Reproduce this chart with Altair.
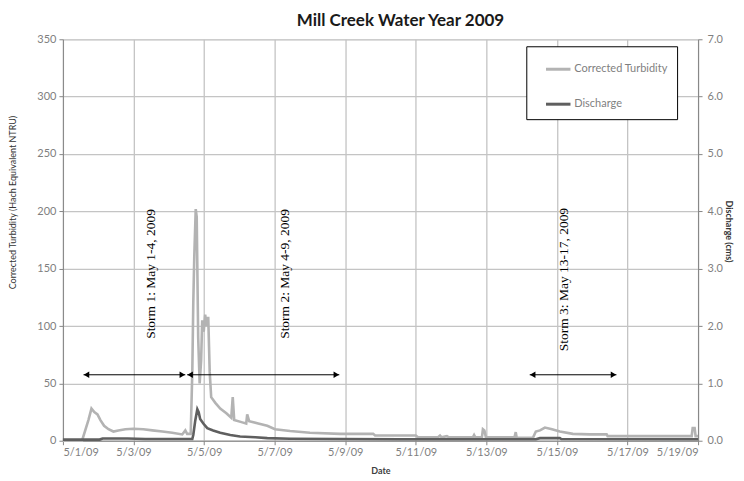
import altair as alt
import pandas as pd

# ---------------- data ----------------
series_names = ["Corrected Turbidity", "Discharge"]
series_colors = ["#b3b3b3", "#5f5f5f"]

turb_time = [
    "2009-05-01T00:00", "2009-05-01T13:00", "2009-05-01T17:20", "2009-05-01T19:25",
    "2009-05-01T21:20", "2009-05-01T23:30", "2009-05-02T01:30", "2009-05-02T04:00",
    "2009-05-02T07:00", "2009-05-02T10:20", "2009-05-02T13:40", "2009-05-02T18:30",
    "2009-05-03T00:00", "2009-05-03T06:40", "2009-05-03T12:50", "2009-05-03T19:40",
    "2009-05-04T02:20", "2009-05-04T09:10", "2009-05-04T11:15", "2009-05-04T12:30",
    "2009-05-04T14:55", "2009-05-04T16:00", "2009-05-04T16:40", "2009-05-04T17:20",
    "2009-05-04T18:20", "2009-05-04T19:00", "2009-05-04T20:00", "2009-05-04T21:00",
    "2009-05-04T22:00", "2009-05-04T22:45", "2009-05-04T23:45", "2009-05-05T00:45",
    "2009-05-05T01:50", "2009-05-05T02:50", "2009-05-05T03:50", "2009-05-05T04:50",
    "2009-05-05T07:40", "2009-05-05T11:00", "2009-05-05T15:10", "2009-05-05T18:30",
    "2009-05-05T19:30", "2009-05-05T20:30", "2009-05-06T02:00", "2009-05-06T04:40",
    "2009-05-06T05:20", "2009-05-06T06:40", "2009-05-06T12:50", "2009-05-06T19:00",
    "2009-05-07T00:15", "2009-05-07T10:30", "2009-05-08T00:00", "2009-05-08T20:30",
    "2009-05-09T19:00", "2009-05-09T20:20", "2009-05-11T00:00", "2009-05-11T01:30",
    "2009-05-11T15:10", "2009-05-11T16:30", "2009-05-11T17:30", "2009-05-11T21:10",
    "2009-05-11T22:30", "2009-05-12T14:50", "2009-05-12T15:40", "2009-05-12T16:30",
    "2009-05-12T21:00", "2009-05-12T21:40", "2009-05-12T22:40", "2009-05-12T23:40",
    "2009-05-13T19:10", "2009-05-13T20:00", "2009-05-13T20:40", "2009-05-14T07:40",
    "2009-05-14T09:40", "2009-05-14T12:30", "2009-05-14T15:50", "2009-05-14T20:40",
    "2009-05-15T02:00", "2009-05-15T10:50", "2009-05-15T22:20", "2009-05-16T09:50",
    "2009-05-16T10:30", "2009-05-18T19:40", "2009-05-18T20:20", "2009-05-18T21:40",
    "2009-05-18T22:20", "2009-05-19T00:00",
]
turb_value = [
    0, 0, 18, 28,
    25, 23, 18, 13,
    10, 8, 9, 10,
    10.5, 10, 9, 8,
    7, 5.5, 9, 6,
    6, 60, 120, 160,
    202, 195, 90, 50,
    70, 105, 95, 110,
    100, 108, 60, 38,
    33, 28, 24, 20,
    38, 18, 16, 15,
    23, 17, 15, 13,
    10, 8.5, 7, 6,
    6, 4.5, 4.5, 3,
    3, 4.5, 3, 4,
    3, 3, 5, 3,
    3, 10, 9, 3,
    3, 7.5, 2.5, 2.5,
    8, 9, 11.5, 10,
    8, 6, 5.5, 5.5,
    4, 4, 11, 11,
    4, 4,
]

dis_time = [
    "2009-05-01T00:00", "2009-05-02T01:00", "2009-05-02T03:00", "2009-05-02T20:00",
    "2009-05-03T08:00", "2009-05-04T16:00", "2009-05-04T16:40", "2009-05-04T18:00",
    "2009-05-04T19:25", "2009-05-04T20:20", "2009-05-04T21:20", "2009-05-04T23:30",
    "2009-05-05T02:10", "2009-05-05T06:10", "2009-05-05T11:00", "2009-05-05T17:50",
    "2009-05-06T00:30", "2009-05-06T10:50", "2009-05-06T19:00", "2009-05-07T10:30",
    "2009-05-08T20:30", "2009-05-10T13:15", "2009-05-14T09:40", "2009-05-14T12:30",
    "2009-05-15T02:00", "2009-05-15T03:00", "2009-05-19T00:00",
]
dis_value = [
    0.02, 0.02, 0.04, 0.04,
    0.03, 0.03, 0.10, 0.35,
    0.55, 0.50, 0.38, 0.30,
    0.22, 0.18, 0.14, 0.10,
    0.075, 0.06, 0.045, 0.035,
    0.03, 0.025, 0.025, 0.045,
    0.045, 0.03, 0.025,
]

storm_labels = ["Storm 1: May 1-4, 2009", "Storm 2: May 4-9, 2009", "Storm 3: May 13-17, 2009"]
storm_label_time = ["2009-05-03T12:00", "2009-05-07T07:00", "2009-05-15T05:00"]
storm_label_top = [202, 202, 203]
arrow_start = ["2009-05-01T14:00", "2009-05-04T12:30", "2009-05-14T05:30"]
arrow_end = ["2009-05-04T11:15", "2009-05-08T20:00", "2009-05-16T16:30"]
arrow_level = [57.5, 57.5, 57.5]

x_tick_days = [1, 3, 5, 7, 9, 11, 13, 15, 17, 19]
left_ticks = [0, 50, 100, 150, 200, 250, 300, 350]
right_ticks = [0, 1, 2, 3, 4, 5, 6, 7]

# ---------------- tables ----------------
turb_df = pd.DataFrame({"t": turb_time, "value": turb_value, "series": series_names[0]})
dis_df = pd.DataFrame({"t": dis_time, "value": dis_value, "series": series_names[1]})
label_df = pd.DataFrame({"t": storm_label_time, "value": storm_label_top, "text": storm_labels})
arrow_df = pd.DataFrame({"t": arrow_start, "t2": arrow_end, "value": arrow_level})

GRID = "#c4c4c4"
AX = "#868686"
LAB = "#7f7f7f"
FONT = "Lato"

x_scale = alt.Scale(domain=[alt.DateTime(year=2009, month=5, date=1),
                            alt.DateTime(year=2009, month=5, date=19)])
x_axis = alt.Axis(
    values=[alt.DateTime(year=2009, month=5, date=d) for d in x_tick_days],
    format="%-m/%-d/%y", title="Date", grid=True, gridColor=GRID, gridWidth=1.3,
    domainColor=AX, tickColor=AX, tickSize=4, labelPadding=2,
    labelFont=FONT, labelFontSize=11, labelColor=LAB,
    titleFont=FONT, titleFontSize=9, titleFontWeight="bold", titleColor="#404040",
    titlePadding=9,
)
left_scale = alt.Scale(domain=[0, 350], nice=False)
left_axis = alt.Axis(
    values=left_ticks, title="Corrected Turbidity (Hach Equivalent NTRU)",
    grid=True, gridColor=GRID, gridWidth=1.3, domainColor=AX, tickColor=AX,
    tickSize=4, labelPadding=3, labelFont=FONT, labelFontSize=11, labelColor=LAB,
    titleFont=FONT, titleFontSize=9, titleFontWeight="normal", titleColor="#333333",
    titlePadding=19, titleY=163,
)
right_axis = alt.Axis(
    values=right_ticks, format=".1f", title="Discharge (cms)", orient="right",
    grid=False, domainColor=AX, tickColor=AX, tickSize=4, labelPadding=5,
    labelFont=FONT, labelFontSize=11, labelColor=LAB,
    titleFont=FONT, titleFontSize=9, titleFontWeight="bold", titleColor="#333333",
    titlePadding=1, titleY=192,
)

color = alt.Color(
    "series:N",
    scale=alt.Scale(domain=series_names, range=series_colors),
    legend=alt.Legend(
        title=None, orient="none", legendX=464, legendY=7, direction="vertical",
        fillColor="white", strokeColor="black", padding=9, rowPadding=15,
        symbolType="stroke", symbolSize=600, symbolStrokeWidth=3, symbolOffset=9,
        labelFont=FONT, labelFontSize=11, labelColor=LAB, labelOffset=2,
        labelExpr="datum.label + '\u2003'",
    ),
)

X = alt.X("t:T", scale=x_scale, axis=x_axis)
Y = alt.Y("value:Q", scale=left_scale, axis=left_axis)

turb = alt.Chart(turb_df).mark_line(strokeWidth=2.6).encode(x=X, y=Y, color=color)

rules = alt.Chart(arrow_df).mark_rule(color="black", strokeWidth=1).encode(
    x=X, x2="t2:T", y=Y)
heads_l = alt.Chart(arrow_df).mark_point(
    shape="triangle-left", filled=True, color="black", size=40, opacity=1, xOffset=3
).encode(x=X, y=Y)
heads_r = alt.Chart(arrow_df).mark_point(
    shape="triangle-right", filled=True, color="black", size=40, opacity=1, xOffset=-3
).encode(x=alt.X("t2:T", scale=x_scale, axis=x_axis), y=Y)
labels = alt.Chart(label_df).mark_text(
    angle=270, align="right", baseline="middle", font="Liberation Serif",
    fontSize=13.5, color="black"
).encode(x=X, y=Y, text="text:N")

left_layer = alt.layer(turb, rules, heads_l, heads_r, labels)

dis = alt.Chart(dis_df).mark_line(strokeWidth=2.6).encode(
    x=X,
    y=alt.Y("value:Q", scale=alt.Scale(domain=[0, 7], nice=False), axis=right_axis),
    color=color,
)

chart = alt.layer(left_layer, dis).resolve_scale(y="independent").properties(
    width=636, height=402,
    padding={"left": 0, "top": 4, "right": 3, "bottom": 0},
    title=alt.TitleParams(
        "Mill Creek Water Year 2009", font=FONT, fontSize=17, fontWeight="bold",
        color="#1a1a1a", frame="group", anchor="middle", dx=20, offset=3,
    ),
).configure_view(stroke=None).configure(background="white")

chart.save("out.html", embed_options={"renderer": "svg", "actions": False})
